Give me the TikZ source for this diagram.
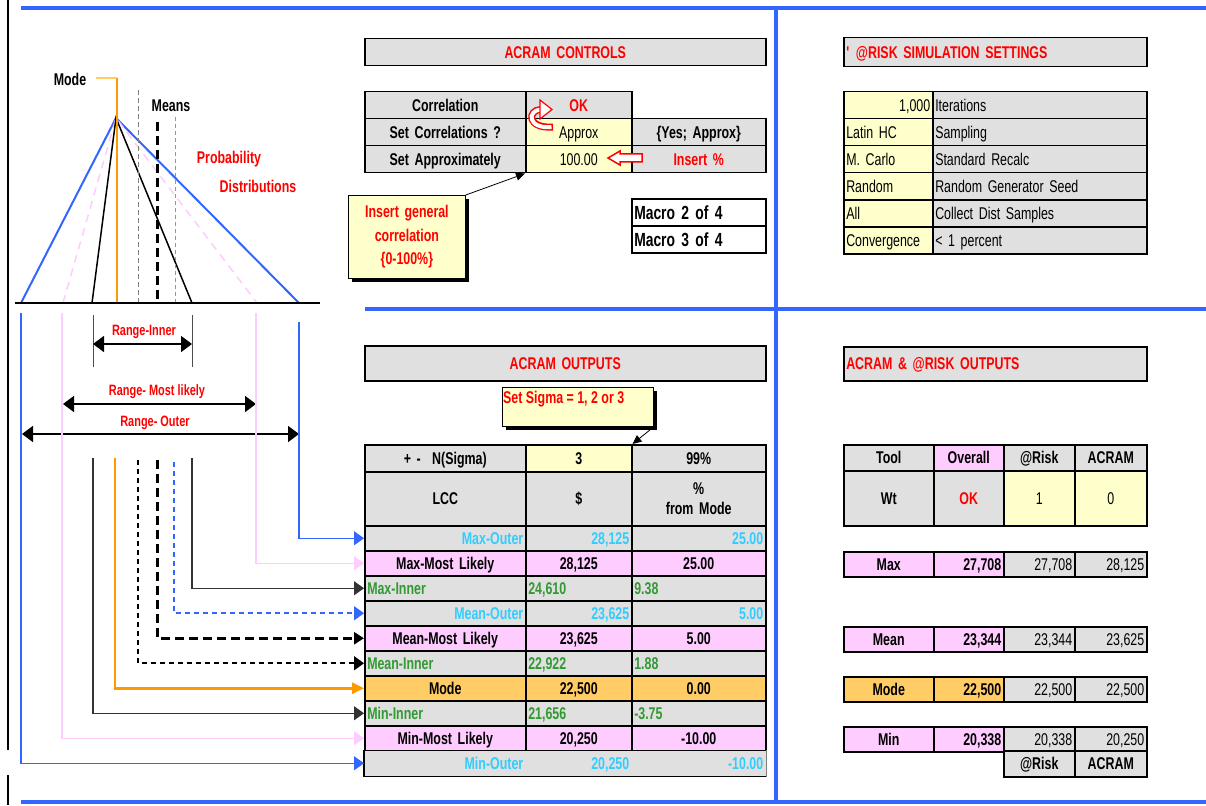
\documentclass[tikz,border=0pt]{standalone}
\usepackage{fontspec}
\setmainfont[FakeStretch=0.73]{Liberation Sans}
\usetikzlibrary{arrows.meta,positioning,shadows}
\definecolor{cellgray}{RGB}{224,224,224}
\definecolor{cellylw}{RGB}{255,255,204}
\definecolor{cellpink}{RGB}{255,204,255}
\definecolor{cellorg}{RGB}{255,204,102}
\definecolor{xlred}{RGB}{255,0,0}
\definecolor{xlcyan}{RGB}{51,204,255}
\definecolor{xlgreen}{RGB}{51,153,51}
\definecolor{xlblue}{RGB}{51,102,255}
\definecolor{xlorange}{RGB}{255,153,0}
\definecolor{xlpink}{RGB}{255,204,255}
\newcommand{\fs}{\fontsize{17}{20}\selectfont}

\begin{document}
\begin{tikzpicture}[x=1pt,y=-1pt,
	cell/.style={draw,line width=1.5pt,fill=cellgray,inner xsep=2pt,inner ysep=0pt,
		anchor=north west,minimum height=#1pt,font=\fs\bfseries,align=center,
		text height=14pt,text depth=1.8pt},
	cell/.default=25,
	wd/.style={minimum width=#1pt,text width=#1pt-5pt},
	multi/.style={text height=,text depth=},
	normaltxt/.style={font=\fs},
	note/.style={draw,line width=0.8pt,fill=cellylw,anchor=north west,text=xlred,
		drop shadow={shadow xshift=4pt,shadow yshift=-4pt,fill=black,opacity=1}},
	lbl/.style={font=\fs\bfseries},
	rnglbl/.style={font=\fontsize{15}{18}\selectfont\bfseries,text=xlred},
	rng/.style={line width=1.5pt,{Triangle[length=11pt,width=16pt]}-{Triangle[length=11pt,width=16pt]}},
	feed/.style={-{Triangle[length=10pt,width=14pt]}}]

	\fill[white] (0,0) rectangle (1206,805);
	\useasboundingbox (0,0) rectangle (1206,805);

	% frame
	\draw[line width=2pt] (8,0) -- (8,750);
	\draw[line width=2pt] (8,775) -- (8,805);
	\draw[xlblue,line width=4pt] (21,8) -- (1206,8);
	\draw[xlblue,line width=4pt] (776,8) -- (776,802);
	\draw[xlblue,line width=4pt] (365,309) -- (1206,309);
	\draw[xlblue,line width=4pt] (21,802) -- (1206,802);

	% distributions
	\coordinate (peak) at (116,118);
	\draw[xlblue,line width=2pt] (21,303) -- (peak) -- (299,303);
	\draw[xlpink,line width=1.5pt,dash pattern=on 8pt off 6pt] (63,303) -- (peak) -- (257,303);
	\draw[line width=1.5pt] (92,303) -- (peak) -- (192,303);
	\draw[cellorg,line width=2pt] (96,78) -- (117,78);
	\draw[xlorange,line width=2pt] (117,78) -- (117,303);
	\draw[gray,line width=1pt,dash pattern=on 5pt off 3pt] (138,90) -- (138,303);
	\draw[line width=3pt,dash pattern=on 9pt off 5pt] (157,122) -- (157,303);
	\draw[xlblue!70,line width=1pt,dash pattern=on 4pt off 3pt] (175,117) -- (175,303);
	\draw[line width=2.5pt] (15,303) -- (320,303);

	\node[lbl] (modelbl) at (70,79) {Mode};
	\node[lbl] (meanslbl) at (171,106) {Means};
	\node[lbl,text=xlred] (problbl) at (229,159) {Probability};
	\node[lbl,text=xlred] (distlbl) at (258,186) {Distributions};

	% ranges
	\draw[black!70,line width=1pt] (93,315) -- (93,367);
	\draw[black!70,line width=1pt] (192,315) -- (192,367);
	\coordinate (riL) at (93,344);
	\coordinate (riR) at (192,344);
	\coordinate (rmL) at (63,404);
	\coordinate (rmR) at (256,404);
	\coordinate (roL) at (22,434);
	\coordinate (roR) at (299,434);
	\draw[rng] (riL) -- (riR);
	\draw[rng] (rmL) -- (rmR);
	\draw[rng] (roL) -- (roR);
	\node[rnglbl] (rinner) at (144,332) {Range-Inner};
	\node[rnglbl] (rmost) at (157,392) {Range- Most likely};
	\node[rnglbl] (router) at (155,423) {Range- Outer};

	% ACRAM controls
	\node[cell=27,wd=401,text=xlred] (ctitle) at (364,38) {ACRAM CONTROLS};
	\node[cell=27,wd=161] (c1a) at (364,91) {Correlation};
	\node[cell=27,wd=106,text=xlred] (c1b) at (525,91) {OK};
	\node[cell=27,wd=161] (c2a) at (364,118) {Set Correlations ?};
	\node[cell=27,wd=106,fill=cellylw,normaltxt] (c2b) at (525,118) {Approx};
	\node[cell=27,wd=134] (c2c) at (631,118) {\{Yes; Approx\}};
	\node[cell=27,wd=161] (c3a) at (364,145) {Set Approximately};
	\node[cell=27,wd=106,fill=cellylw,normaltxt] (c3b) at (525,145) {100.00};
	\node[cell=27,wd=134,text=xlred] (c3c) at (631,145) {Insert \%};

	\draw[xlred,line width=7pt] (553,127) .. controls (527,129) and (527,110) .. (541,109.5);
	\draw[white,line width=4pt,shorten <=1.5pt] (553,127) .. controls (527,129) and (527,110) .. (541,109.5);
	\filldraw[fill=white,draw=xlred,line width=1.2pt] (540,100) -- (552,109.5) -- (540,119) -- cycle;
	\filldraw[fill=white,draw=xlred,line width=1.5pt] (608,158) -- (620,151) -- (620,154) -- (642,154)
		-- (642,162) -- (620,162) -- (620,165) -- cycle;

	\node[note,minimum width=117pt,minimum height=83pt,text width=110pt,align=center,
		font=\fontsize{17}{23.5}\selectfont\bfseries] (corrnote) at (348,195)
		{Insert general\\correlation\\\{0-100\%\}};
	\draw[line width=0.8pt,-{Triangle[length=9pt,width=8pt]}] (corrnote.north east) -- (c3b.south west);

	\node[cell=27,wd=134,fill=white,align=left,font=\fontsize{19}{22}\selectfont\bfseries,
		text height=15.6pt,text depth=2pt] (m2) at (631,198) {Macro 2 of 4};
	\node[cell=27,wd=134,fill=white,align=left,font=\fontsize{19}{22}\selectfont\bfseries,
		text height=15.6pt,text depth=2pt] (m3) at (631,225) {Macro 3 of 4};

	% @RISK settings
	\node[cell=29,wd=303,text=xlred,align=left] (stitle) at (843,37) {\textquotesingle{} @RISK SIMULATION SETTINGS};
	\node[cell=27,wd=89,fill=cellylw,normaltxt,align=right] (s1a) at (843,91) {1,000};
	\node[cell=27,wd=214,normaltxt,align=left] (s1b) at (932,91) {Iterations};
	\node[cell=27,wd=89,fill=cellylw,normaltxt,align=left] (s2a) at (843,118) {Latin HC};
	\node[cell=27,wd=214,normaltxt,align=left] (s2b) at (932,118) {Sampling};
	\node[cell=27,wd=89,fill=cellylw,normaltxt,align=left] (s3a) at (843,145) {M. Carlo};
	\node[cell=27,wd=214,normaltxt,align=left] (s3b) at (932,145) {Standard Recalc};
	\node[cell=27,wd=89,fill=cellylw,normaltxt,align=left] (s4a) at (843,172) {Random};
	\node[cell=27,wd=214,normaltxt,align=left] (s4b) at (932,172) {Random Generator Seed};
	\node[cell=27,wd=89,fill=cellylw,normaltxt,align=left] (s5a) at (843,199) {All};
	\node[cell=27,wd=214,normaltxt,align=left] (s5b) at (932,199) {Collect Dist Samples};
	\node[cell=27,wd=89,fill=cellylw,normaltxt,align=left] (s6a) at (843,226) {Convergence};
	\node[cell=27,wd=214,normaltxt,align=left] (s6b) at (932,226) {< 1 percent};

	% ACRAM outputs
	\node[cell=35,wd=401,text=xlred] (otitle) at (364,345) {ACRAM OUTPUTS};
	\node[cell=27,wd=161] (sa) at (364,444) {+ -\ \ N(Sigma)};
	\node[cell=27,wd=106,fill=cellylw] (sb) at (525,444) {3};
	\node[cell=27,wd=134] (sc) at (631,444) {99\%};
	\node[cell=54,wd=161] (ha) at (364,471) {LCC};
	\node[cell=54,wd=106] (hb) at (525,471) {\$};
	\node[cell=54,wd=134,multi] (hc) at (631,471) {\%\\from Mode};

	\node[note,minimum width=151pt,minimum height=39pt] (sigmanote) at (502,387) {};
	\node[font=\fs\bfseries,text=xlred,anchor=north west,inner sep=0pt] (sigmatxt) at (503,391) {Set Sigma = 1, 2 or 3};
	\draw[line width=0.8pt,-{Triangle[length=9pt,width=8pt]}] (sigmanote.south east) -- (sb.north east);

	\node[cell,wd=161,align=right,text=xlcyan] (o1a) at (364,525) {Max-Outer};
	\node[cell,wd=106,align=right,text=xlcyan] (o1b) at (525,525) {28,125};
	\node[cell,wd=134,align=right,text=xlcyan] (o1c) at (631,525) {25.00};
	\node[cell,wd=161,fill=cellpink] (o2a) at (364,550) {Max-Most Likely};
	\node[cell,wd=106,fill=cellpink] (o2b) at (525,550) {28,125};
	\node[cell,wd=134,fill=cellpink] (o2c) at (631,550) {25.00};
	\node[cell,wd=161,align=left,text=xlgreen] (o3a) at (364,575) {Max-Inner};
	\node[cell,wd=106,align=left,text=xlgreen] (o3b) at (525,575) {24,610};
	\node[cell,wd=134,align=left,text=xlgreen] (o3c) at (631,575) {9.38};
	\node[cell,wd=161,align=right,text=xlcyan] (o4a) at (364,600) {Mean-Outer\ };
	\node[cell,wd=106,align=right,text=xlcyan] (o4b) at (525,600) {23,625};
	\node[cell,wd=134,align=right,text=xlcyan] (o4c) at (631,600) {5.00};
	\node[cell,wd=161,fill=cellpink] (o5a) at (364,625) {Mean-Most Likely};
	\node[cell,wd=106,fill=cellpink] (o5b) at (525,625) {23,625};
	\node[cell,wd=134,fill=cellpink] (o5c) at (631,625) {5.00};
	\node[cell,wd=161,align=left,text=xlgreen] (o6a) at (364,650) {Mean-Inner};
	\node[cell,wd=106,align=left,text=xlgreen] (o6b) at (525,650) {22,922};
	\node[cell,wd=134,align=left,text=xlgreen] (o6c) at (631,650) {1.88};
	\node[cell,wd=161,fill=cellorg] (o7a) at (364,675) {Mode};
	\node[cell,wd=106,fill=cellorg] (o7b) at (525,675) {22,500};
	\node[cell,wd=134,fill=cellorg] (o7c) at (631,675) {0.00};
	\node[cell,wd=161,align=left,text=xlgreen] (o8a) at (364,700) {Min-Inner};
	\node[cell,wd=106,align=left,text=xlgreen] (o8b) at (525,700) {21,656};
	\node[cell,wd=134,align=left,text=xlgreen] (o8c) at (631,700) {-3.75};
	\node[cell,wd=161,fill=cellpink] (o9a) at (364,725) {Min-Most Likely};
	\node[cell,wd=106,fill=cellpink] (o9b) at (525,725) {20,250};
	\node[cell,wd=134,fill=cellpink] (o9c) at (631,725) {-10.00};
	\node[cell,wd=161,draw=none,align=right,text=xlcyan] (o10a) at (364,750) {Min-Outer};
	\node[cell,wd=106,draw=none,align=right,text=xlcyan] (o10b) at (525,750) {20,250};
	\node[cell,wd=134,draw=none,align=right,text=xlcyan] (o10c) at (631,750) {-10.00};
	\draw[line width=1.5pt] (o10a.north west) -- (o10a.south west) -- (o10c.south east);
	\draw[line width=0.6pt,gray] (o10c.south east) -- (o10c.north east);

	% feeds from the distributions into the table
	\coordinate (fOutR) at (299,322);
	\coordinate (fMLR) at (256,313);
	\coordinate (fInR) at (192,458);
	\coordinate (fMeanOut) at (174,462);
	\coordinate (fMeanML) at (157,460);
	\coordinate (fMeanIn) at (138,460);
	\coordinate (fMode) at (115,458);
	\coordinate (fInL) at (93,458);
	\coordinate (fMLL) at (62,313);
	\coordinate (fOutL) at (21,313);
	\draw[xlblue,line width=1.2pt,feed] (fOutR) |- (o1a.west);
	\draw[xlpink,line width=1.5pt,feed] (fMLR) |- (o2a.west);
	\draw[black!80,line width=1.2pt,feed] (fInR) |- (o3a.west);
	\draw[xlblue,line width=1.6pt,dash pattern=on 5pt off 4pt,feed] (fMeanOut) |- (o4a.west);
	\draw[line width=3pt,dash pattern=on 9pt off 5pt,-{Triangle[length=10pt,width=12pt]}] (fMeanML) |- (o5a.west);
	\draw[line width=1.8pt,dash pattern=on 5pt off 4pt,feed] (fMeanIn) |- (o6a.west);
	\draw[xlorange,line width=2.5pt,-{Triangle[length=12pt,width=11pt]}] (fMode) |- (o7a.west);
	\draw[black!80,line width=1.2pt,feed] (fInL) |- (o8a.west);
	\draw[xlpink,line width=1.5pt,feed] (fMLL) |- (o9a.west);
	\draw[xlblue,line width=1.2pt,feed] (fOutL) |- (o10a.west);

	% ACRAM & @RISK outputs
	\node[cell=34,wd=303,text=xlred,align=left] (rtitle) at (843,346) {ACRAM \& @RISK OUTPUTS};
	\node[cell=26,wd=90] (r0a) at (843,444) {Tool};
	\node[cell=26,wd=70,fill=cellpink] (r0b) at (933,444) {Overall};
	\node[cell=26,wd=71] (r0c) at (1003,444) {@Risk};
	\node[cell=26,wd=72] (r0d) at (1074,444) {ACRAM};
	\node[cell=55,wd=90] (r1a) at (843,470) {Wt};
	\node[cell=55,wd=70,text=xlred] (r1b) at (933,470) {OK};
	\node[cell=55,wd=71,fill=cellylw,normaltxt] (r1c) at (1003,470) {1};
	\node[cell=55,wd=72,fill=cellylw,normaltxt] (r1d) at (1074,470) {0};

	\node[cell,wd=90,fill=cellpink] (rmaxa) at (843,551) {Max};
	\node[cell,wd=70,fill=cellpink,align=right] (rmaxb) at (933,551) {27,708};
	\node[cell,wd=71,normaltxt,align=right] (rmaxc) at (1003,551) {27,708};
	\node[cell,wd=72,normaltxt,align=right] (rmaxd) at (1074,551) {28,125};
	\node[cell,wd=90,fill=cellpink] (rmeana) at (843,626) {Mean};
	\node[cell,wd=70,fill=cellpink,align=right] (rmeanb) at (933,626) {23,344};
	\node[cell,wd=71,normaltxt,align=right] (rmeanc) at (1003,626) {23,344};
	\node[cell,wd=72,normaltxt,align=right] (rmeand) at (1074,626) {23,625};
	\node[cell,wd=90,fill=cellorg] (rmodea) at (843,676) {Mode};
	\node[cell,wd=70,fill=cellorg,align=right] (rmodeb) at (933,676) {22,500};
	\node[cell,wd=71,normaltxt,align=right] (rmodec) at (1003,676) {22,500};
	\node[cell,wd=72,normaltxt,align=right] (rmoded) at (1074,676) {22,500};
	\node[cell,wd=90,fill=cellpink] (rmina) at (843,726) {Min};
	\node[cell,wd=70,fill=cellpink,align=right] (rminb) at (933,726) {20,338};
	\node[cell,wd=71,normaltxt,align=right] (rminc) at (1003,726) {20,338};
	\node[cell,wd=72,normaltxt,align=right] (rmind) at (1074,726) {20,250};
	\node[cell=26,wd=71] (rfootc) at (1003,750) {@Risk};
	\node[cell=26,wd=72] (rfootd) at (1074,750) {ACRAM};

\end{tikzpicture}
\end{document}
